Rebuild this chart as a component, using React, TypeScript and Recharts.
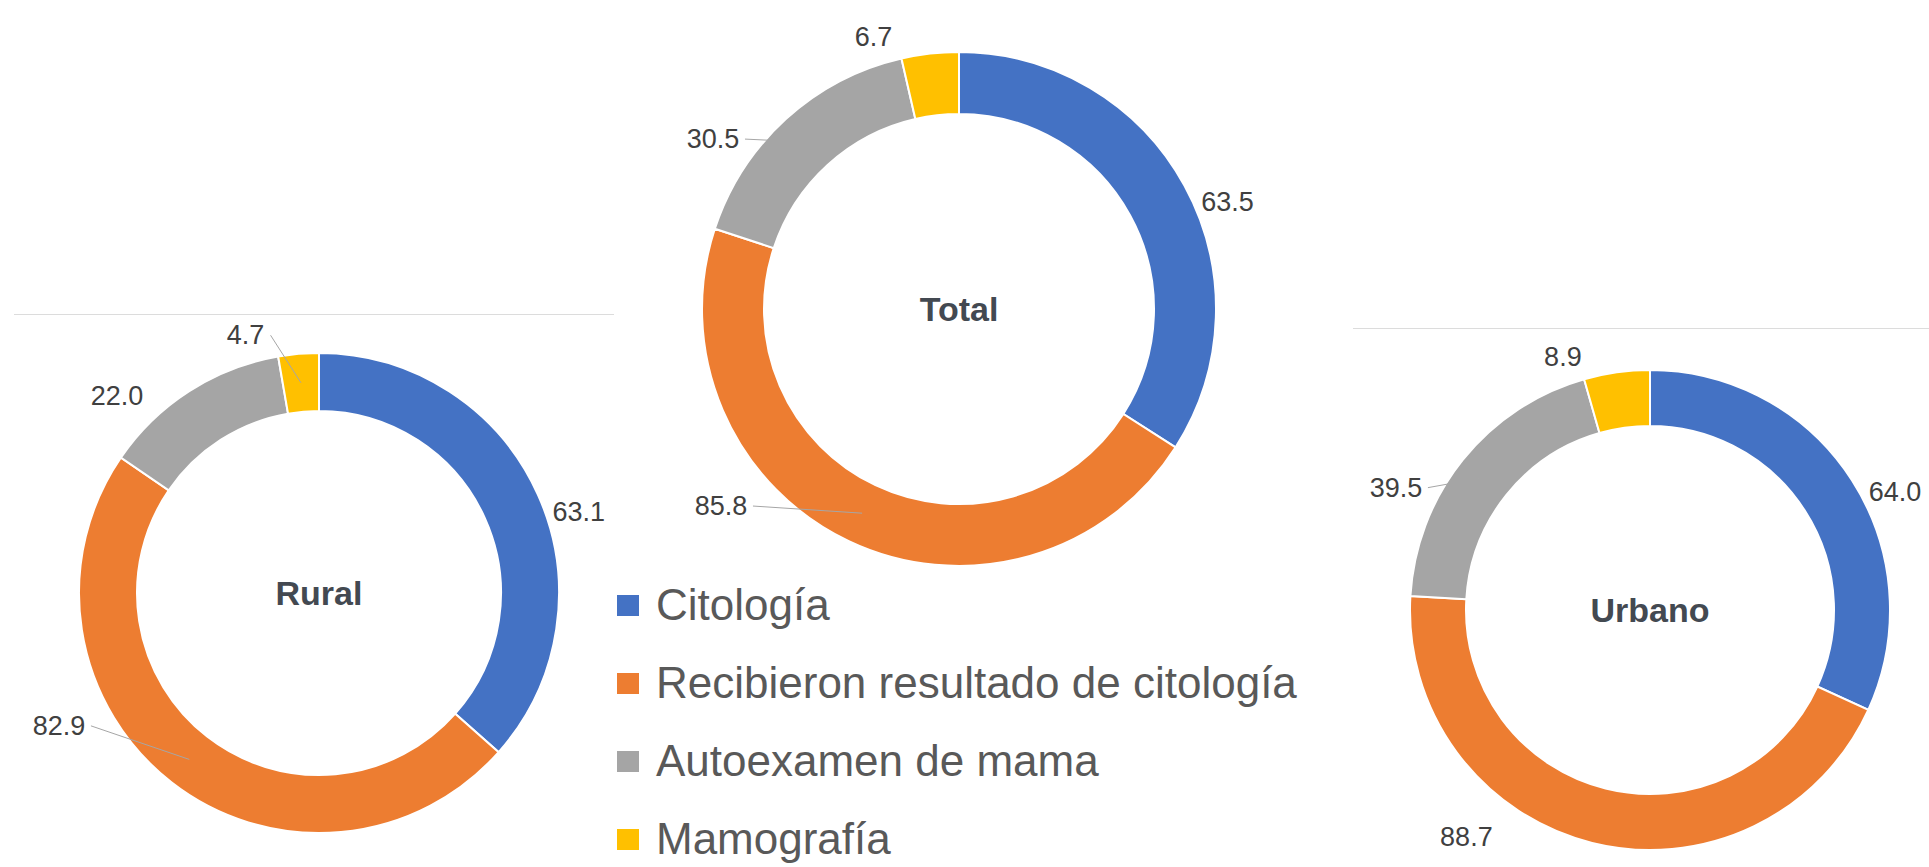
import { PieChart, Pie, Cell, Legend } from "recharts";

const CATEGORIES = [
  "Citología",
  "Recibieron resultado de citología",
  "Autoexamen de mama",
  "Mamografía",
];
const RURAL_VALUES = [63.1, 82.9, 22.0, 4.7];
const TOTAL_VALUES = [63.5, 85.8, 30.5, 6.7];
const URBANO_VALUES = [64.0, 88.7, 39.5, 8.9];

const COLORS = ["#4472C4", "#ED7D31", "#A5A5A5", "#FFC000"];
const FONT = '"Liberation Sans", Arial, sans-serif';

// excel moved the data labels around a bit, roughly the same per series
const LABEL_SHIFT = [7, 25, -13, -11];
const LABEL_GAP = [32, 52, 42, 28];
const RAD = Math.PI / 180;

const toRows = (values: number[]) =>
  CATEGORIES.map((name, i) => ({ name, value: values[i] }));

function makeLabel(title: string, leaders: number[]) {
  return (props: any) => {
    const { cx, cy, midAngle, innerRadius, outerRadius, index, value } = props;
    const a = (midAngle - LABEL_SHIFT[index]) * RAD;
    const r = outerRadius + LABEL_GAP[index];
    const x = cx + r * Math.cos(a);
    const y = cy - r * Math.sin(a);
    const text = Number(value).toFixed(1);
    let line = null;
    if (leaders.includes(index)) {
      const mr = (innerRadius + outerRadius) / 2;
      const tx = cx + mr * Math.cos(midAngle * RAD);
      const ty = cy - mr * Math.sin(midAngle * RAD);
      const half = text.length * 7 + 4;
      const sx = tx > x ? x + half : x - half;
      line = <line x1={sx} y1={y} x2={tx} y2={ty} stroke="#a6a6a6" strokeWidth={1} />;
    }
    return (
      <g>
        {line}
        <text
          x={x}
          y={y}
          textAnchor="middle"
          dominantBaseline="central"
          fill="#404040"
          fontSize={27}
          fontFamily={FONT}
        >
          {text}
        </text>
        {index === 0 && (
          <text
            x={cx}
            y={cy}
            textAnchor="middle"
            dominantBaseline="central"
            fill="#434951"
            fontSize={34}
            fontWeight="bold"
            fontFamily={FONT}
          >
            {title}
          </text>
        )}
      </g>
    );
  };
}

interface DonutProps {
  values: number[];
  title: string;
  width: number;
  height: number;
  cx: number;
  cy: number;
  outer: number;
  inner: number;
  leaders: number[];
  children?: any;
}

function Donut({ values, title, width, height, cx, cy, outer, inner, leaders, children }: DonutProps) {
  return (
    <PieChart width={width} height={height} margin={{ top: 0, right: 0, bottom: 0, left: 0 }}>
      <Pie
        data={toRows(values)}
        dataKey="value"
        nameKey="name"
        cx={cx}
        cy={cy}
        innerRadius={inner}
        outerRadius={outer}
        startAngle={90}
        endAngle={-270}
        stroke="#fff"
        strokeWidth={2}
        label={makeLabel(title, leaders)}
        labelLine={false}
        isAnimationActive={false}
      >
        {values.map((_, i) => (
          <Cell key={i} fill={COLORS[i]} />
        ))}
      </Pie>
      {children}
    </PieChart>
  );
}

function LegendBox() {
  return (
    <div style={{ fontFamily: FONT }}>
      {CATEGORIES.map((name, i) => (
        <div key={name} style={{ display: "flex", alignItems: "center", height: 78 }}>
          <span style={{ width: 22, height: 21, background: COLORS[i], marginRight: 17, flex: "none" }} />
          <span style={{ fontSize: 44, color: "#595959", whiteSpace: "nowrap" }}>{name}</span>
        </div>
      ))}
    </div>
  );
}

export default function App() {
  return (
    <div
      style={{
        position: "absolute",
        left: 0,
        top: 0,
        width: 1929,
        height: 867,
        background: "#fff",
        overflow: "hidden",
      }}
    >
      <div style={{ position: "absolute", left: 14, top: 314, width: 600, borderTop: "1px solid #dcdcdc" }}>
        <Donut values={RURAL_VALUES} title="Rural" width={600} height={552} cx={305} cy={278} outer={240} inner={182} leaders={[1, 3]} />
      </div>
      <div style={{ position: "absolute", left: 610, top: 0, width: 700 }}>
        <Donut values={TOTAL_VALUES} title="Total" width={700} height={867} cx={349} cy={309} outer={257} inner={195} leaders={[1, 2]}>
          <Legend
            content={() => <LegendBox />}
            wrapperStyle={{ position: "absolute", left: 7, top: 566, width: 690 }}
          />
        </Donut>
      </div>
      <div style={{ position: "absolute", left: 1353, top: 328, width: 576, borderTop: "1px solid #dcdcdc" }}>
        <Donut values={URBANO_VALUES} title="Urbano" width={576} height={538} cx={297} cy={281} outer={240} inner={184} leaders={[2]} />
      </div>
    </div>
  );
}
